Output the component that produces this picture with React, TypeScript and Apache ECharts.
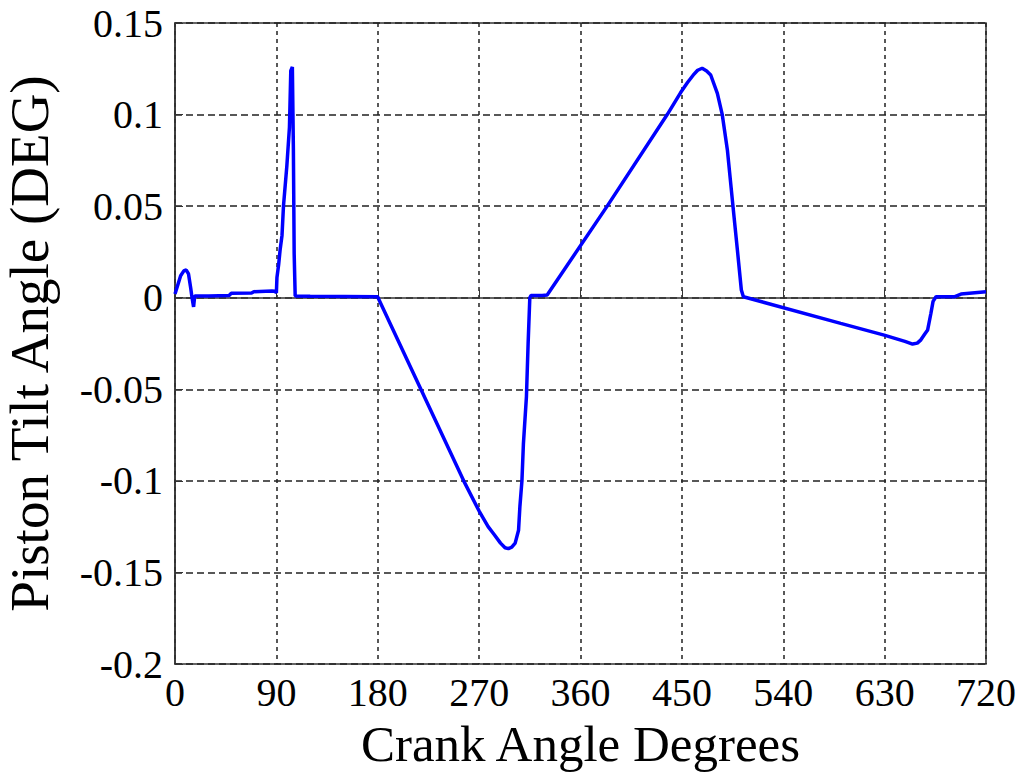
import React, { useEffect, useRef } from "react";
import * as echarts from "echarts";

const crankAngle: number[] = [
  0, 2, 5, 8, 10, 12, 14, 15, 16.5, 17.5, 30, 48, 50, 68, 70, 86, 89, 90, 90.5, 92,
  93.3, 95, 96.3, 99.3, 101.6, 102.8, 104.2, 105.1, 105.8, 106.7, 120, 180, 181,
  256.3, 270, 278, 283, 289, 293, 296, 299, 302, 305, 306.2, 308, 309.3, 312, 313.5,
  315, 316, 326, 330.4, 383.7, 437, 448.9, 455, 460, 464, 468, 472, 475.6, 481.5,
  485.9, 490.4, 494.8, 499.3, 502.8, 504.6, 591, 629.6, 648, 654.8, 659, 662.2, 665.5,
  668.2, 671.1, 673, 675.6, 691.8, 697.8, 720,
];

const tiltAngle: number[] = [
  0.002, 0.006, 0.012, 0.0148, 0.0151, 0.013, 0.005, 0.0005, -0.005, 0.001, 0.001,
  0.0012, 0.0024, 0.0026, 0.0033, 0.0036, 0.0035, 0.0026, 0.011, 0.018, 0.026, 0.034,
  0.05, 0.072, 0.093, 0.124, 0.126, 0.081, 0.024, 0.001, 0.0008, 0.0005, -0.001,
  -0.1, -0.1165, -0.125, -0.129, -0.134, -0.1365, -0.137, -0.1362, -0.134, -0.127,
  -0.114, -0.1, -0.08, -0.054, -0.025, 0.0, 0.0012, 0.0012, 0.0015, 0.05, 0.1, 0.112,
  0.1175, 0.1215, 0.1242, 0.1253, 0.1238, 0.1216, 0.1116, 0.0998, 0.0807, 0.0534,
  0.026, 0.0042, 0.0005, -0.014, -0.0204, -0.0238, -0.0253, -0.0248, -0.023, -0.02,
  -0.0176, -0.0085, -0.002, 0.0005, 0.0005, 0.002, 0.0033,
];

const xTitle = "Crank Angle Degrees";
const yTitle = "Piston Tilt Angle (DEG)";

export default function App() {
  const ref = useRef<HTMLDivElement>(null);
  useEffect(() => {
    if (!ref.current) return;
    const chart = echarts.init(ref.current, undefined, { renderer: "svg" });
    const font = "Liberation Serif";
    const data = crankAngle.map((a, i) => [a, tiltAngle[i]]);
    chart.setOption({
      animation: false,
      backgroundColor: "#ffffff",
      grid: {
        left: 175,
        right: 38,
        top: 23,
        bottom: 114,
        containLabel: false,
        outerBoundsMode: "none",
        show: true,
        borderColor: "#333333",
        borderWidth: 1.5,
        backgroundColor: "transparent",
      },
      xAxis: {
        type: "value",
        min: 0,
        max: 720,
        interval: 90,
        name: xTitle,
        nameLocation: "middle",
        nameGap: 54,
        nameTextStyle: { fontFamily: font, fontSize: 51, color: "#000" },
        axisLine: { show: true, lineStyle: { color: "#333", width: 1.5 } },
        axisTick: { show: true, inside: true, length: 8, lineStyle: { color: "#333" } },
        axisLabel: { fontFamily: font, fontSize: 40, color: "#000", margin: 8 },
        splitLine: {
          show: true,
          lineStyle: { color: "#222", type: [4, 4], width: 1.5 },
        },
      },
      yAxis: {
        type: "value",
        min: -0.2,
        max: 0.15,
        interval: 0.05,
        name: yTitle,
        nameLocation: "middle",
        nameGap: 118,
        nameTextStyle: { fontFamily: font, fontSize: 55, color: "#000" },
        axisLine: { show: true, lineStyle: { color: "#333", width: 1.5 } },
        axisTick: { show: true, inside: true, length: 8, lineStyle: { color: "#333" } },
        axisLabel: {
          fontFamily: font,
          fontSize: 40,
          color: "#000",
          margin: 12,
          formatter: (v: number) => String(parseFloat(v.toFixed(2))),
        },
        splitLine: {
          show: true,
          lineStyle: { color: "#222", type: [7, 4], width: 1.5 },
        },
      },
      series: [
        {
          type: "line",
          data,
          showSymbol: false,
          lineStyle: { color: "#0000ff", width: 3.5 },
          itemStyle: { color: "#0000ff" },
        },
      ],
    });
    return () => chart.dispose();
  }, []);
  return (
    <div
      ref={ref}
      style={{ position: "fixed", left: 0, top: 0, width: 1024, height: 778 }}
    />
  );
}
